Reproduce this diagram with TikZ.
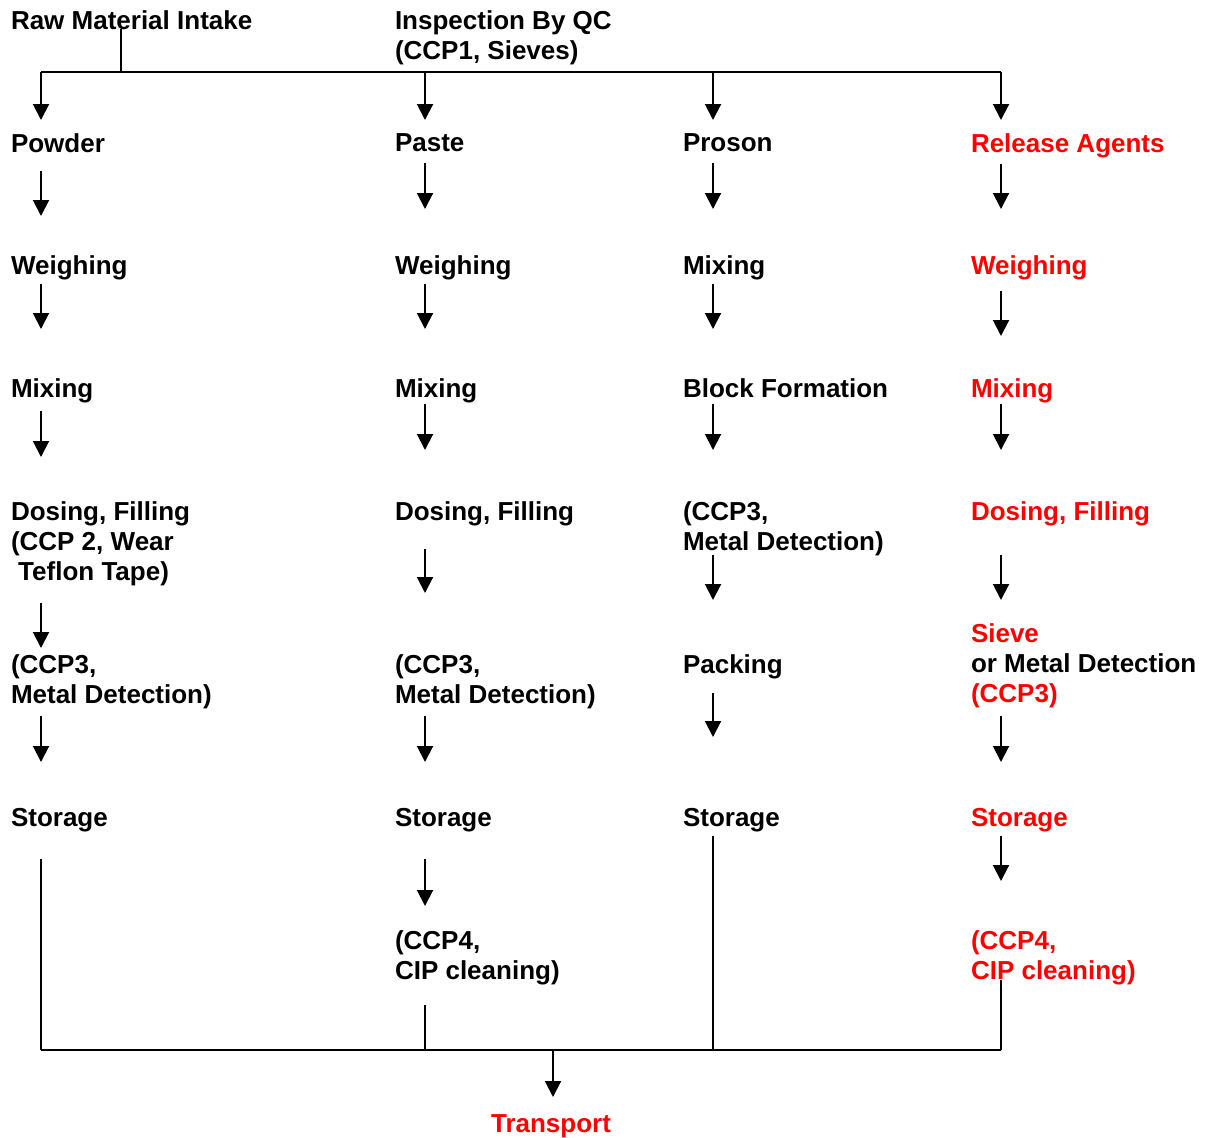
\documentclass[tikz,border=0pt]{standalone}
\usepackage{fontspec}
\setmainfont{Liberation Sans}
\usetikzlibrary{arrows.meta}
\definecolor{ccpred}{RGB}{255,0,0}

\tikzset{
	stage/.style={anchor=north west, inner sep=0pt, align=left,
		font=\fontsize{13pt}{15pt}\selectfont\bfseries},
	flow/.style 2 args={-{Triangle[width=8pt,length=8pt]}, shorten <=#1, shorten >=#2},
	rail/.style={shorten <=#1}
}

\begin{document}
\begin{tikzpicture}[x=0.5pt, y=-0.5pt, line width=1pt]

\def\arrA{41}
\def\arrB{425}
\def\arrC{713}
\def\arrD{1001}
\def\barTop{72}
\def\barBot{1050}

\useasboundingbox (0,0) rectangle (1210,1137);

% intake
\node[stage] (raw) at (10,9.5) {Raw Material Intake};
\node[stage] (qc) at (394,9.5) {Inspection By QC\\(CCP1, Sieves)};

\coordinate (trunk) at (121,\barTop);
\coordinate (top1) at (\arrA,\barTop);
\coordinate (top2) at (\arrB,\barTop);
\coordinate (top3) at (\arrC,\barTop);
\coordinate (top4) at (\arrD,\barTop);
\draw[rail=-0.75pt] (raw.south -| trunk) -- (trunk);
\draw (top1) -- (top4);

% powder
\node[stage] (powder) at (10,132.5) {Powder};
\node[stage] (weigh1) at (10,254.5) {Weighing};
\node[stage] (mix1) at (10,377.5) {Mixing};
\node[stage] (dose1) at (10,500.5) {Dosing, Filling\\(CCP 2, Wear\\\ Teflon Tape)};
\node[stage] (md1) at (10,653.5) {(CCP3,\\Metal Detection)};
\node[stage] (store1) at (10,807.5) {Storage};

\draw[flow={0pt}{6.25pt}] (top1) -- (powder.north -| top1);
\draw[flow={8.75pt}{19.25pt}] (powder.south -| top1) -- (weigh1.north -| top1);
\draw[flow={1.5pt}{24.25pt}] (weigh1.south -| top1) -- (mix1.north -| top1);
\draw[flow={3.5pt}{21.75pt}] (mix1.south -| top1) -- (dose1.north -| top1);
\draw[flow={8pt}{2.75pt}] (dose1.south -| top1) -- (md1.north -| top1);
\draw[flow={3pt}{22.75pt}] (md1.south -| top1) -- (store1.north -| top1);

% paste
\node[stage] (paste) at (394,132.5) {Paste};
\node[stage] (weigh2) at (394,254.5) {Weighing};
\node[stage] (mix2) at (394,377.5) {Mixing};
\node[stage] (dose2) at (394,500.5) {Dosing, Filling};
\node[stage] (md2) at (394,653.5) {(CCP3,\\Metal Detection)};
\node[stage] (store2) at (394,807.5) {Storage};
\node[stage] (cip2) at (394,929.5) {(CCP4,\\CIP cleaning)};

\draw[flow={0pt}{6.25pt}] (top2) -- (paste.north -| top2);
\draw[flow={5.25pt}{22.75pt}] (paste.south -| top2) -- (weigh2.north -| top2);
\draw[flow={1.5pt}{24.25pt}] (weigh2.south -| top2) -- (mix2.north -| top2);
\draw[flow={0pt}{25.25pt}] (mix2.south -| top2) -- (dose2.north -| top2);
\draw[flow={11pt}{30.25pt}] (dose2.south -| top2) -- (md2.north -| top2);
\draw[flow={3pt}{22.75pt}] (md2.south -| top2) -- (store2.north -| top2);
\draw[flow={13pt}{11.75pt}] (store2.south -| top2) -- (cip2.north -| top2);

% proson
\node[stage] (proson) at (682,132.5) {Proson};
\node[stage] (mix3) at (682,254.5) {Mixing};
\node[stage] (block3) at (682,377.5) {Block Formation};
\node[stage] (md3) at (682,500.5) {(CCP3,\\Metal Detection)};
\node[stage] (pack3) at (682,653.5) {Packing};
\node[stage] (store3) at (682,807.5) {Storage};

\draw[flow={0pt}{6.25pt}] (top3) -- (proson.north -| top3);
\draw[flow={5.25pt}{22.75pt}] (proson.south -| top3) -- (mix3.north -| top3);
\draw[flow={1.5pt}{24.25pt}] (mix3.south -| top3) -- (block3.north -| top3);
\draw[flow={2.75pt}{25.25pt}] (block3.south -| top3) -- (md3.north -| top3);
\draw[flow={-1pt}{26.75pt}] (md3.south -| top3) -- (pack3.north -| top3);
\draw[flow={6.5pt}{35.25pt}] (pack3.south -| top3) -- (store3.north -| top3);

% release agents
\begin{scope}[every node/.append style={text=ccpred}]
\node[stage] (release) at (970,132.5) {Release Agents};
\node[stage] (weigh4) at (970,254.5) {Weighing};
\node[stage] (mix4) at (970,377.5) {Mixing};
\node[stage] (dose4) at (970,500.5) {Dosing, Filling};
\node[stage] (sieve4) at (970,622.5) {Sieve\\{\color{black}or Metal Detection}\\(CCP3)};
\node[stage] (store4) at (970,807.5) {Storage};
\node[stage] (cip4) at (970,929.5) {(CCP4,\\CIP cleaning)};
\end{scope}

\draw[flow={0pt}{6.25pt}] (top4) -- (release.north -| top4);
\draw[flow={2.5pt}{22.75pt}] (release.south -| top4) -- (weigh4.north -| top4);
\draw[flow={5pt}{20.75pt}] (weigh4.south -| top4) -- (mix4.north -| top4);
\draw[flow={0pt}{25.25pt}] (mix4.south -| top4) -- (dose4.north -| top4);
\draw[flow={14pt}{11.25pt}] (dose4.south -| top4) -- (sieve4.north -| top4);
\draw[flow={3.5pt}{22.75pt}] (sieve4.south -| top4) -- (store4.north -| top4);
\draw[flow={1.5pt}{24.25pt}] (store4.south -| top4) -- (cip4.north -| top4);

% transport
\coordinate (bot1) at (\arrA,\barBot);
\coordinate (bot2) at (\arrB,\barBot);
\coordinate (bot3) at (\arrC,\barBot);
\coordinate (bot4) at (\arrD,\barBot);
\coordinate (botT) at (553,\barBot);
\node[stage, anchor=north, text=ccpred] (transport) at (551,1113.5) {Transport};

\draw[rail=13pt] (store1.south -| bot1) -- (bot1);
\draw[rail=9.5pt] (cip2.south -| bot2) -- (bot2);
\draw[rail=1.5pt] (store3.south -| bot3) -- (bot3);
\draw[rail=-3pt] (cip4.south -| bot4) -- (bot4);
\draw (bot1) -- (bot4);
\draw[flow={0pt}{8.25pt}] (botT) -- (transport.north -| botT);

\end{tikzpicture}
\end{document}
